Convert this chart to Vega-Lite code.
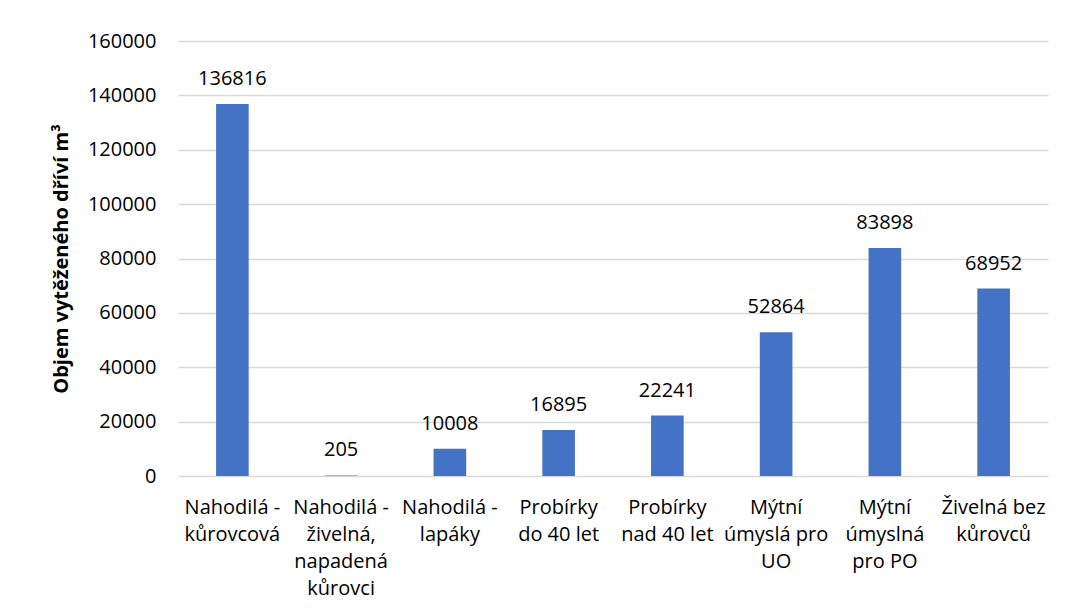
{
  "$schema": "https://vega.github.io/schema/vega-lite/v6.json",
  "autosize": "none",
  "width": 870,
  "height": 435,
  "padding": {"left": 178, "top": 41, "right": 17, "bottom": 139},
  "background": "white",
  "config": {
    "view": {"stroke": null},
    "font": "Open Sans"
  },
  "data": {
    "values": [
      {"kategorie": "Nahodilá -|kůrovcová", "objem": 136816},
      {"kategorie": "Nahodilá -|živelná,|napadená|kůrovci", "objem": 205},
      {"kategorie": "Nahodilá -|lapáky", "objem": 10008},
      {"kategorie": "Probírky|do 40 let", "objem": 16895},
      {"kategorie": "Probírky|nad 40 let", "objem": 22241},
      {"kategorie": "Mýtní|úmyslá pro|UO", "objem": 52864},
      {"kategorie": "Mýtní|úmyslná|pro PO", "objem": 83898},
      {"kategorie": "Živelná bez|kůrovců", "objem": 68952}
    ]
  },
  "encoding": {
    "x": {
      "field": "kategorie",
      "type": "nominal",
      "sort": null,
      "scale": {"paddingInner": 0.7, "paddingOuter": 0.35},
      "axis": {
        "title": null,
        "labelAngle": 0,
        "labelExpr": "split(datum.value, '|')",
        "labelLimit": 0,
        "labelFont": "Open Sans",
        "labelFontSize": 20,
        "labelColor": "#000000",
        "labelLineHeight": 27,
        "labelPadding": 21,
        "ticks": false,
        "domain": false
      }
    },
    "y": {
      "field": "objem",
      "type": "quantitative",
      "scale": {"domain": [0, 160000]},
      "axis": {
        "title": "Objem vytěženého dříví m³",
        "titleFont": "Open Sans",
        "titleFontSize": 20,
        "titleFontWeight": "bold",
        "titleColor": "#000000",
        "titlePadding": 16,
        "values": [0, 20000, 40000, 60000, 80000, 100000, 120000, 140000, 160000],
        "format": "d",
        "labelFont": "Open Sans",
        "labelFontSize": 20,
        "labelColor": "#000000",
        "labelPadding": 22,
        "ticks": false,
        "domain": false,
        "gridColor": "#D9D9D9",
        "gridWidth": 1.3
      }
    }
  },
  "layer": [
    {"mark": {"type": "bar", "color": "#4472C4"}},
    {
      "mark": {"type": "text", "baseline": "alphabetic", "dy": -19, "font": "Open Sans", "fontSize": 20, "color": "#000000"},
      "encoding": {"text": {"field": "objem", "type": "quantitative", "format": "d"}}
    }
  ]
}
